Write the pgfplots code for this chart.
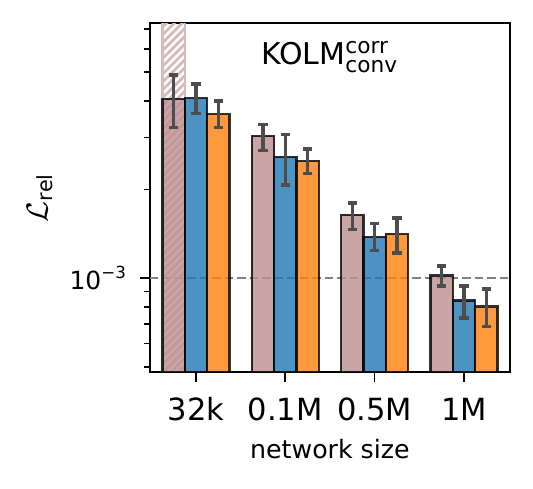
\documentclass[border=0pt]{standalone}
\usepackage{fontspec}
\setmainfont{DejaVu Sans}
\usepackage{pgfplots}
\pgfplotsset{compat=1.18}
\usepackage{pgfplotstable}
\usetikzlibrary{calc,patterns.meta}

\definecolor{rosy}{HTML}{BC8F8F}
\definecolor{tabblue}{HTML}{1F77B4}
\definecolor{taborange}{HTML}{FF7F0E}
\definecolor{errgrey}{HTML}{4D4D4D}

% x = group position + offset, y = mean, ep/em = upper/lower error
\pgfplotstableread{
x     y        ep        em
-0.25 4.07e-3  0.82e-3   0.82e-3
0.75  3.04e-3  0.29e-3   0.33e-3
1.75  1.64e-3  0.16e-3   0.18e-3
2.75  1.02e-3  0.08e-3   0.078e-3
}\tblrosy
\pgfplotstableread{
x     y        ep        em
0     4.08e-3  0.48e-3   0.45e-3
1     2.58e-3  0.50e-3   0.51e-3
2     1.38e-3  0.155e-3  0.14e-3
3     0.84e-3  0.10e-3   0.108e-3
}\tblblue
\pgfplotstableread{
x     y        ep        em
0.25  3.60e-3  0.40e-3   0.35e-3
1.25  2.50e-3  0.24e-3   0.23e-3
2.25  1.41e-3  0.19e-3   0.195e-3
3.25  0.801e-3 0.117e-3  0.116e-3
}\tblorange

\pgfplotsset{
  bars/.style={ybar, bar width=0.25, bar shift=0pt, line width=0.8pt,
    draw=black, draw opacity=0.8, fill opacity=0.8,
    error bars/y dir=both, error bars/y explicit,
    error bars/error bar style={line width=1.25pt, errgrey, draw opacity=1},
    error bars/error mark options={line width=1.25pt, errgrey, mark size=1.7pt, rotate=90}},
}

\begin{document}
\begin{tikzpicture}
\begin{semilogyaxis}[
  scale only axis,
  width=129.7pt, height=125.7pt,
  xmin=-0.515, xmax=3.515,
  ymin=4.8e-4, ymax=7.35e-3,
  log origin y=infty,
  xtick={0,1,2,3},
  xticklabels={32k,0.1M,0.5M,1M},
  ytick={1e-3},
  yticklabels={10\textsuperscript{−3}},
  minor ytick={5e-4,6e-4,7e-4,8e-4,9e-4,2e-3,3e-3,4e-3,5e-3,6e-3,7e-3},
  xtick pos=bottom, ytick pos=left,
  tick align=outside,
  major tick length=3.6pt, minor tick length=2pt,
  tick style={line width=0.6pt, black},
  axis line style={line width=0.6pt},
  xticklabel style={font=\fontsize{11}{13}\selectfont, anchor=base, yshift=-13.8pt},
  yticklabel style={font=\fontsize{9}{11}\selectfont, xshift=-1pt},
  xlabel={network size},
  xlabel style={font=\fontsize{9.1}{11}\selectfont, anchor=base,
    at={(axis description cs:0.5,-0.2466)}},
  ylabel={$\mathcal{L}_{\hbox{\fontsize{7.5}{9}\selectfont rel}}$},
  ylabel style={font=\fontsize{11}{13}\selectfont, anchor=center,
    at={(axis description cs:-0.3053,0.5)}},
  clip=true,
]
\addplot[black!50, line width=0.8pt, dash pattern=on 3pt off 1.5pt, forget plot]
  coordinates {(-0.515,1e-3) (3.515,1e-3)};
\addplot[ybar, bar width=0.25, bar shift=0pt, line width=0.8pt, draw=rosy!60,
  pattern={Lines[angle=45, distance=2pt, line width=1pt]}, pattern color=rosy!62]
  coordinates {(-0.25,1)};
\addplot[bars, fill=rosy] table[x=x, y=y, y error plus=ep, y error minus=em] {\tblrosy};
\addplot[bars, fill=tabblue] table[x=x, y=y, y error plus=ep, y error minus=em] {\tblblue};
\addplot[bars, fill=taborange] table[x=x, y=y, y error plus=ep, y error minus=em] {\tblorange};
\node[anchor=base, font=\fontsize{10.8}{13}\selectfont] at (rel axis cs:0.5,0.8799)
  {KOLM$^{\hbox{\fontsize{7.8}{9}\selectfont corr}}_{\hbox{\fontsize{7.8}{9}\selectfont conv}}$};
\coordinate (sw) at (rel axis cs:0,0);
\coordinate (ne) at (rel axis cs:1,1);
\end{semilogyaxis}
\pgfresetboundingbox
\path ($(sw)+(-54pt,-41.8pt)$) rectangle ($(ne)+(8.3pt,8.3pt)$);
\end{tikzpicture}
\end{document}
